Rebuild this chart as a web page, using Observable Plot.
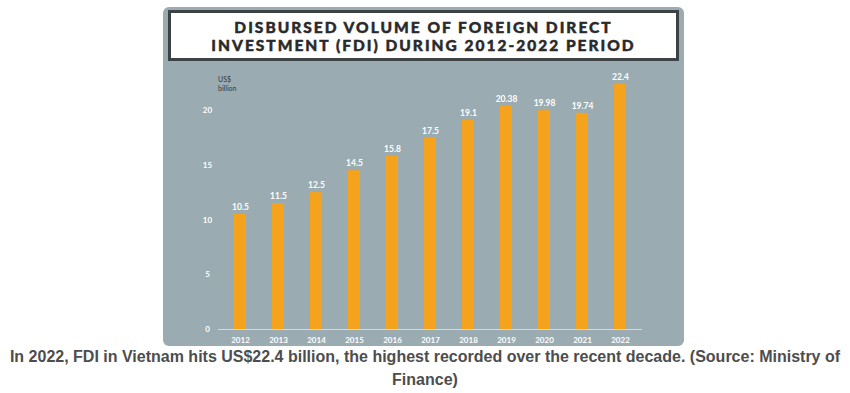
<!DOCTYPE html>
<html>
<head>
<meta charset="utf-8">
<script src="https://cdn.jsdelivr.net/npm/d3@7"></script>
<script src="https://cdn.jsdelivr.net/npm/@observablehq/plot@0.6"></script>
<style>
  html, body { margin: 0; padding: 0; background: #fff; width: 850px; height: 393px; overflow: hidden; }
  #panel { position: absolute; left: 163px; top: 7px; width: 521px; height: 339px; background: #9aabb1; border-radius: 6px; }
  #title { position: absolute; left: 5px; top: 3px; width: 511px; height: 51px; box-sizing: border-box; background: #fff; border: 3px solid #3d4244;
           display: flex; align-items: center; justify-content: center; text-align: center;
           font-family: Lato, "Open Sans", sans-serif; font-weight: 900; font-size: 15.5px; letter-spacing: 2px; line-height: 18px; color: #2a2a2a;
           -webkit-text-stroke: 0.45px #2a2a2a; }
  #unit { position: absolute; left: 55px; top: 68px; font-family: Lato, sans-serif; font-size: 7px; line-height: 8.5px; color: #2f3a40; }
  #chart { position: absolute; left: 0; top: 55px; }
  #caption { position: absolute; left: 0; top: 345px; width: 850px; text-align: center; font-family: "Liberation Sans Narrow", "Arial Narrow", "Liberation Sans", sans-serif; font-weight: bold; font-size: 16px; line-height: 23px; color: #4d4d4d; }
</style>
</head>
<body>
<div id="panel">
  <div id="title"><div>DISBURSED VOLUME OF FOREIGN DIRECT<br>INVESTMENT (FDI) DURING 2012-2022 PERIOD</div></div>
  <div id="unit">US$<br>billion</div>
  <div id="chart"></div>
</div>
<div id="caption">In 2022, FDI in Vietnam hits US$22.4 billion, the highest recorded over the recent decade. (Source: Ministry of Finance)</div>
<script>
const years = ["2012","2013","2014","2015","2016","2017","2018","2019","2020","2021","2022"];
const values = [10.5, 11.5, 12.5, 14.5, 15.8, 17.5, 19.1, 20.38, 19.98, 19.74, 22.4];
const labels = ["10.5","11.5","12.5","14.5","15.8","17.5","19.1","20.38","19.98","19.74","22.4"];
const yTicks = [0, 5, 10, 15, 20];

const data = years.map((y, i) => ({year: y, value: values[i], label: labels[i]}));

const chart = Plot.plot({
  width: 521,
  height: 284,
  marginLeft: 55,
  marginRight: 42,
  marginTop: 0,
  marginBottom: 17,
  style: { background: "transparent", fontFamily: "Lato, sans-serif" },
  x: { domain: years, paddingInner: 0.69, paddingOuter: 0.36, label: null },
  y: { domain: [0, 20], range: [267, 48], label: null },
  marks: [
    Plot.barY(data, { x: "year", y: "value", fill: "#f5a21c" }),
    Plot.ruleY([0], { stroke: "#d3dadd", strokeWidth: 1.2 }),
    Plot.text(data, { x: "year", y: "value", text: "label", dy: -7, fill: "#ffffff", fontSize: 8.5, fontWeight: "bold", lineAnchor: "middle" }),
    Plot.axisX({ tickSize: 0, tickPadding: 8, fill: "#ffffff", fontSize: 8, fontWeight: "bold", label: null }),
    Plot.axisY({ ticks: yTicks, tickSize: 0, tickPadding: 11, textAnchor: "middle", fill: "#ffffff", fontSize: 8, fontWeight: "bold", label: null })
  ]
});
document.getElementById("chart").appendChild(chart);
</script>
</body>
</html>
